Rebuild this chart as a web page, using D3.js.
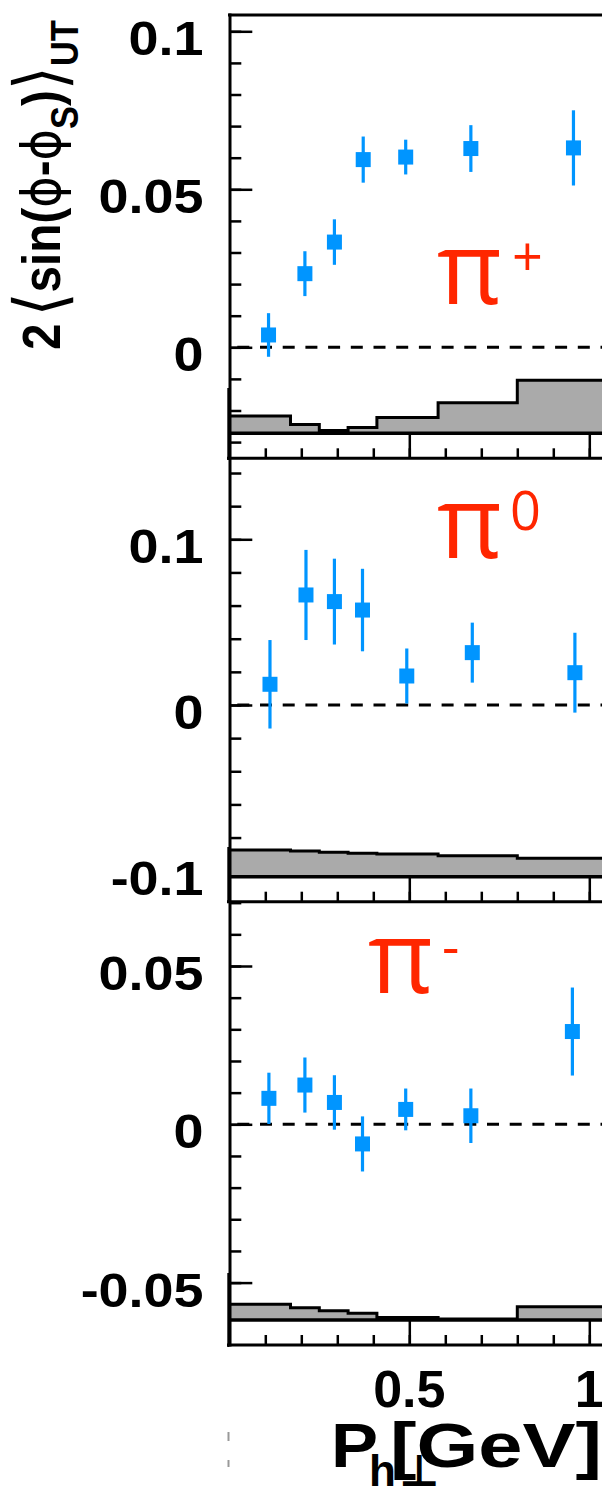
<!DOCTYPE html>
<html>
<head>
<meta charset="utf-8">
<script src="https://cdn.jsdelivr.net/npm/d3@7"></script>
<style>
  html, body { margin: 0; padding: 0; background: #fff; }
  svg { display: block; }
</style>
</head>
<body>
<svg id="chart" width="602" height="1486"></svg>
<script>
// Sivers amplitudes 2<sin(phi-phi_S)>_UT versus P_h-perp for pions

// pi+
const ptPiPlus   = [0.109, 0.210, 0.292, 0.372, 0.490, 0.671, 0.956];
const asymPiPlus = [0.0039, 0.0233, 0.0333, 0.0594, 0.0602, 0.0629, 0.0631];
const errPiPlus  = [0.0069, 0.0071, 0.0072, 0.0073, 0.0055, 0.0074, 0.0119];
const sysPiPlus  = [0.0055, 0.0028, 0.0009, 0.0018, 0.0050, 0.0097, 0.0168];

// pi0
const ptPi0   = [0.113, 0.213, 0.292, 0.370, 0.493, 0.675, 0.960];
const asymPi0 = [0.0125, 0.0664, 0.0624, 0.0573, 0.0175, 0.0316, 0.0195];
const errPi0  = [0.0267, 0.0272, 0.0259, 0.0249, 0.0166, 0.0181, 0.0241];
const sysPi0  = [0.0161, 0.0155, 0.0147, 0.0141, 0.0137, 0.0127, 0.0111];

// pi-
const ptPiMinus   = [0.110, 0.210, 0.292, 0.370, 0.490, 0.671, 0.953];
const asymPiMinus = [0.0082, 0.0124, 0.0069, -0.0062, 0.0047, 0.0027, 0.0293];
const errPiMinus  = [0.0081, 0.0087, 0.0086, 0.0087, 0.0066, 0.0086, 0.0139];
const sysPiMinus  = [0.0050, 0.0039, 0.0029, 0.0021, 0.0008, 0.0003, 0.0042];

// kinematic bin edges of the systematic band
const binEdges = [0, 0.17, 0.25, 0.33, 0.41, 0.58, 0.80, 1.40];

// axis tick labels
const yTicksPiPlus  = [0, 0.05, 0.1];
const yTicksPi0     = [-0.1, 0, 0.1];
const yTicksPiMinus = [-0.05, 0, 0.05];
const xTickLabels   = [0.5, 1];

const BLUE = "#0095ff";
const RED = "#ff2600";
const GREY = "#aaaaaa";
const LABEL_FONT = "'Liberation Sans', Arial, Helvetica, sans-serif";
const SYMBOL_FONT = "'DejaVu Sans', sans-serif";

const svg = d3.select("#chart");

// horizontal scale shared by all pads
const x = d3.scaleLinear().domain([0, 1.2]).range([229.3, 229.3 + 432]);
const X0 = x(0);

const panels = [
  { hadron: "+", pt: ptPiPlus, val: asymPiPlus, err: errPiPlus, sys: sysPiPlus,
    yTicks: yTicksPiPlus, domain: [-0.03513, 0.10516], top: 15, axis: 458.3,
    minor: 0.01, lab: { x: 437, y: 303.5, sx: 512, sy: 276 } },
  { hadron: "0", pt: ptPi0, val: asymPi0, err: errPi0, sys: sysPi0,
    yTicks: yTicksPi0, domain: [-0.11871, 0.14888], top: 458.3, axis: 901.7,
    minor: 0.02, lab: { x: 437, y: 558, sx: 510, sy: 530 } },
  { hadron: "-", pt: ptPiMinus, val: asymPiMinus, err: errPiMinus, sys: sysPiMinus,
    yTicks: yTicksPiMinus, domain: [-0.06971, 0.07031], top: 901.7, axis: 1345,
    minor: 0.01, lab: { x: 368, y: 993, sx: 442, sy: 966 } }
];

const fmt = v => String(Math.round(v * 1000) / 1000);

panels.forEach(p => {
  const y = d3.scaleLinear().domain(p.domain).range([p.axis, p.top]);
  const g = svg.append("g");
  const bandBase = p.axis - 25;

  // y ticks (inward)
  const lo = Math.ceil(p.domain[0] / p.minor - 1e-6), hi = Math.floor(p.domain[1] / p.minor + 1e-6);
  const minorVals = d3.range(lo, hi + 1).map(k => +(k * p.minor).toFixed(4));
  const yMinor = d3.axisRight(y).tickValues(minorVals).tickSize(12).tickFormat("");
  const yMajor = d3.axisRight(y).tickValues(p.yTicks).tickSize(23).tickFormat("");
  [yMinor, yMajor].forEach(ax => {
    const a = g.append("g").attr("transform", `translate(${X0},0)`).call(ax);
    a.select(".domain").remove();
    a.selectAll("line").attr("stroke", "#000").attr("stroke-width", 2.5);
  });

  // y tick labels
  g.selectAll("text.ylab").data(p.yTicks).join("text")
    .attr("class", "ylab")
    .attr("transform", d => `translate(203.5,${y(d) + 24}) scale(1.1,1)`)
    .attr("text-anchor", "end")
    .attr("font-family", LABEL_FONT).attr("font-weight", "bold").attr("font-size", 49)
    .text(fmt);

  // x ticks (pointing up from the pad axis)
  const xMinorVals = d3.range(1, 12).map(k => +(k * 0.1).toFixed(2));
  const xMajorVals = [0, 0.5, 1];
  const xMinor = d3.axisTop(x).tickValues(xMinorVals).tickSize(10).tickFormat("");
  const xMajor = d3.axisTop(x).tickValues(xMajorVals).tickSize(25).tickFormat("");
  [xMinor, xMajor].forEach(ax => {
    const a = g.append("g").attr("transform", `translate(0,${p.axis})`).call(ax);
    a.select(".domain").remove();
    a.selectAll("line").attr("stroke", "#000").attr("stroke-width", 2.5);
  });

  // systematic band as a step histogram standing on the band baseline
  const h = v => y(0) - y(v);
  const pts = [];
  p.sys.forEach((s, k) => {
    pts.push([x(binEdges[k]), bandBase - h(s)]);
    pts.push([x(binEdges[k + 1]), bandBase - h(s)]);
  });
  const area = [[x(binEdges[0]), bandBase], ...pts, [x(binEdges[binEdges.length - 1]), bandBase]];
  g.append("path")
    .attr("d", d3.line()(area) + "Z")
    .attr("fill", GREY).attr("stroke", "none");
  g.append("path")
    .attr("d", d3.line()(pts))
    .attr("fill", "none").attr("stroke", "#000").attr("stroke-width", 3)
    .attr("stroke-linejoin", "miter");
  g.append("line")
    .attr("x1", X0).attr("x2", 602)
    .attr("y1", bandBase).attr("y2", bandBase)
    .attr("stroke", "#000").attr("stroke-width", 3.5);

  // zero line
  g.append("line")
    .attr("x1", X0).attr("x2", 602)
    .attr("y1", y(0)).attr("y2", y(0))
    .attr("stroke", "#000").attr("stroke-width", 3)
    .attr("stroke-dasharray", "12,10.7").attr("stroke-dashoffset", -8);

  // pad axis line
  g.append("line")
    .attr("x1", 227).attr("x2", 602)
    .attr("y1", p.axis).attr("y2", p.axis)
    .attr("stroke", "#000").attr("stroke-width", 3);

  // data points with statistical error bars
  const idx = d3.range(p.val.length);
  g.selectAll("line.err").data(idx).join("line")
    .attr("class", "err")
    .attr("x1", k => x(p.pt[k])).attr("x2", k => x(p.pt[k]))
    .attr("y1", k => y(p.val[k] - p.err[k])).attr("y2", k => y(p.val[k] + p.err[k]))
    .attr("stroke", BLUE).attr("stroke-width", 3.2);
  g.selectAll("rect.pt").data(idx).join("rect")
    .attr("class", "pt")
    .attr("x", k => x(p.pt[k]) - 7.5).attr("y", k => y(p.val[k]) - 7.5)
    .attr("width", 15).attr("height", 15)
    .attr("fill", BLUE);

  // hadron label
  g.append("text")
    .attr("x", p.lab.x).attr("y", p.lab.y)
    .attr("font-family", "'Open Sans', 'Noto Sans', sans-serif").attr("font-weight", 500)
    .attr("font-size", 100)
    .attr("fill", RED).text("π");
  g.append("text")
    .attr("x", p.lab.sx).attr("y", p.lab.sy)
    .attr("font-family", "'Open Sans', 'Noto Sans', sans-serif").attr("font-size", 54)
    .attr("fill", RED).text(p.hadron);
});

// outer frame: top edge and left axis
svg.append("line").attr("x1", 228).attr("x2", 602).attr("y1", 15).attr("y2", 15)
  .attr("stroke", "#000").attr("stroke-width", 3);
svg.append("line").attr("x1", 230).attr("x2", 230).attr("y1", 13.5).attr("y2", 1346.5)
  .attr("stroke", "#000").attr("stroke-width", 3);
// lower sub-pad edges of the left axis
[[388, 460], [847, 903], [1273, 1347]].forEach(([a, b]) => {
  svg.append("line").attr("x1", 228.3).attr("x2", 228.3).attr("y1", a).attr("y2", b)
    .attr("stroke", "#000").attr("stroke-width", 2);
});

// x tick labels below the last pad
svg.selectAll("text.xlab").data(xTickLabels).join("text")
  .attr("class", "xlab")
  .attr("x", d => x(d)).attr("y", 1407)
  .attr("text-anchor", "middle")
  .attr("font-family", LABEL_FONT).attr("font-weight", "bold").attr("font-size", 52)
  .text(d => String(d));

// x axis title: P_{h⊥} [GeV]
svg.append("text")
  .attr("transform", "translate(331,1467) scale(1.12,1)")
  .attr("font-family", LABEL_FONT).attr("font-weight", "bold").attr("font-size", 63)
  .text("P");
const sub = svg.append("text")
  .attr("x", 369).attr("y", 1486)
  .attr("font-family", LABEL_FONT).attr("font-weight", "bold").attr("font-size", 44);
sub.append("tspan").text("h");
sub.append("tspan").attr("dx", 3).attr("font-family", SYMBOL_FONT).text("⊥");
svg.append("text")
  .attr("x", 390).attr("y", 1467)
  .attr("textLength", 212).attr("lengthAdjust", "spacingAndGlyphs")
  .attr("font-family", LABEL_FONT).attr("font-weight", "bold").attr("font-size", 63)
  .text("[GeV]");

// small grey marks at the lower left
[[1432, 1441], [1460, 1467]].forEach(([a, b]) => {
  svg.append("line").attr("x1", 228.5).attr("x2", 228.5).attr("y1", a).attr("y2", b)
    .attr("stroke", "#999").attr("stroke-width", 2);
});

// y axis title: 2 <sin(phi - phi_S)>_UT, rotated
const yt = svg.append("text")
  .attr("font-family", LABEL_FONT).attr("font-weight", "bold").attr("font-size", 54);
yt.append("tspan").text("2");
yt.append("tspan").attr("dx", 8).attr("font-family", SYMBOL_FONT).attr("font-weight", "normal")
  .attr("font-size", 70).attr("dy", 4).text("⟨");
yt.append("tspan").attr("dy", -4).text("sin(");
yt.append("tspan").attr("font-family", SYMBOL_FONT).attr("font-weight", "normal").text("ϕ");
yt.append("tspan").text("-");
yt.append("tspan").attr("font-family", SYMBOL_FONT).attr("font-weight", "normal").text("ϕ");
yt.append("tspan").attr("font-size", 39).attr("dy", 18).text("S");
yt.append("tspan").attr("dy", -18).text(")");
yt.append("tspan").attr("font-family", SYMBOL_FONT).attr("font-weight", "normal")
  .attr("font-size", 70).attr("dy", 4).text("⟩");
yt.append("tspan").attr("font-size", 39).attr("dy", 14).text("UT");
const tb = yt.node().getBBox();
const k = 330 / tb.width;
yt.attr("transform", `translate(60,${350 + tb.x * k}) rotate(-90) scale(${k},1)`);
</script>
</body>
</html>
